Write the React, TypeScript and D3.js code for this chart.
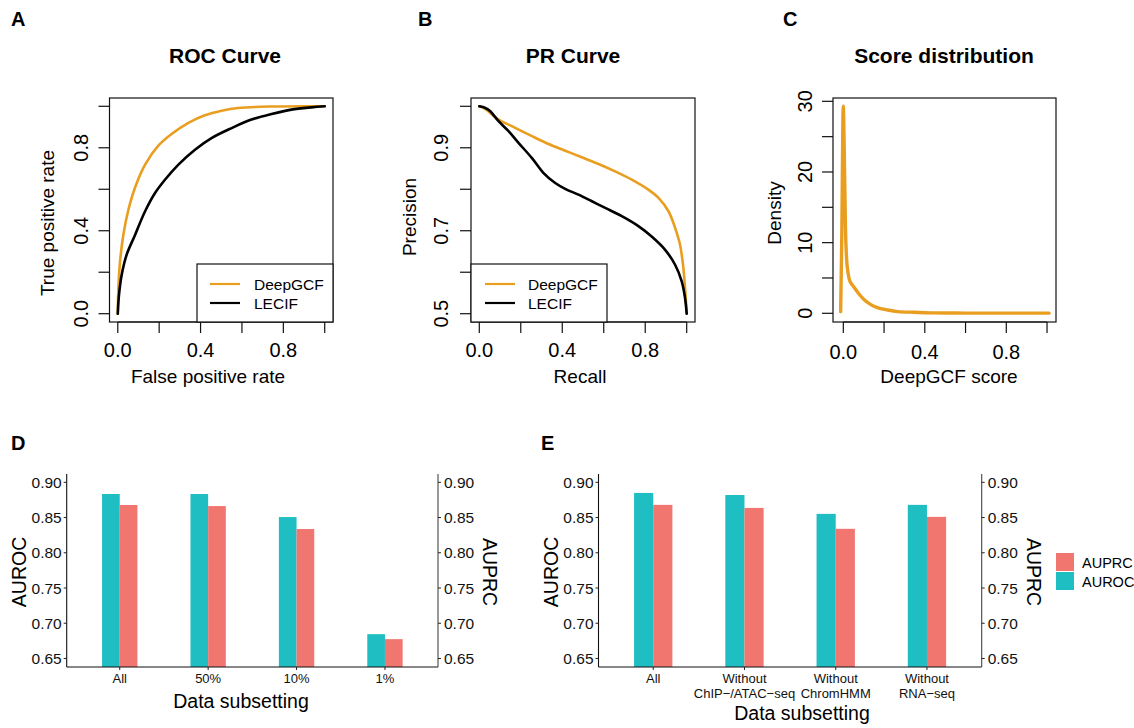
import React from 'react'
import * as d3 from 'd3'

const FONT = '"Liberation Sans", Arial, Helvetica, sans-serif'
const ORANGE = '#E99E1F'
const TEAL = '#1FBEC3'
const SALMON = '#F17670'

// ROC curve points [FPR, TPR]
const rocDeepGCF = [
  [0, 0], [0.003, 0.124], [0.011, 0.252], [0.027, 0.381], [0.051, 0.5], [0.084, 0.61],
  [0.132, 0.719], [0.196, 0.81], [0.26, 0.866], [0.341, 0.92], [0.421, 0.957], [0.502, 0.979],
  [0.582, 0.992], [0.743, 0.999], [1, 1],
]
const rocLECIF = [
  [0, 0], [0.006, 0.092], [0.019, 0.188], [0.043, 0.285], [0.084, 0.381], [0.132, 0.494],
  [0.18, 0.582], [0.228, 0.646], [0.293, 0.719], [0.373, 0.791], [0.453, 0.847], [0.55, 0.895],
  [0.646, 0.936], [0.743, 0.963], [0.839, 0.984], [0.936, 0.995], [1, 1],
]

// PR curve points [recall, precision]
const prDeepGCF = [
  [0, 1.0], [0.029, 0.994], [0.061, 0.98], [0.093, 0.968], [0.173, 0.948], [0.254, 0.928],
  [0.334, 0.909], [0.414, 0.893], [0.494, 0.877], [0.575, 0.861], [0.655, 0.843], [0.735, 0.823],
  [0.815, 0.799], [0.864, 0.779], [0.912, 0.747], [0.944, 0.707], [0.968, 0.666], [0.984, 0.61],
  [0.992, 0.562], [1.0, 0.5],
]
const prLECIF = [
  [0, 1.0], [0.029, 0.996], [0.053, 0.988], [0.093, 0.964], [0.141, 0.94], [0.189, 0.912],
  [0.254, 0.875], [0.31, 0.839], [0.366, 0.815], [0.414, 0.801], [0.478, 0.787], [0.543, 0.771],
  [0.607, 0.755], [0.687, 0.735], [0.767, 0.711], [0.831, 0.686], [0.896, 0.654], [0.944, 0.618],
  [0.976, 0.578], [0.992, 0.538], [1.0, 0.5],
]

// score density [score, density]
const scoreDensity = [
  [-0.013, 0.24], [-0.007, 12], [-0.002, 27.5], [0.0, 29.3], [0.004, 24], [0.008, 16.7],
  [0.013, 9.7], [0.02, 6.4], [0.033, 4.5], [0.05, 3.8], [0.075, 2.8], [0.1, 2.0], [0.133, 1.27],
  [0.167, 0.8], [0.217, 0.47], [0.267, 0.24], [0.35, 0.14], [0.43, 0.06], [0.6, 0.03],
  [0.8, 0.02], [1.01, 0.02],
]

const unitTicks = [0, 0.2, 0.4, 0.6, 0.8, 1.0]
const unitLabels = [0, 0.4, 0.8]
const prTicks = [0.5, 0.6, 0.7, 0.8, 0.9, 1.0]
const prLabels = [0.5, 0.7, 0.9]
const densTicks = [0, 5, 10, 15, 20, 25, 30]
const densLabels = [0, 10, 20, 30]

// bar panels
const subsetCats = ['All', '50%', '10%', '1%']
const subsetAUROC = [0.8834, 0.8834, 0.8507, 0.6845]
const subsetAUPRC = [0.8678, 0.8663, 0.8337, 0.6774]

const featureCats = [['All'], ['Without', 'ChIP\u2212/ATAC\u2212seq'], ['Without', 'ChromHMM'], ['Without', 'RNA\u2212seq']]
const featureAUROC = [0.8849, 0.882, 0.8552, 0.868]
const featureAUPRC = [0.868, 0.8637, 0.834, 0.851]

const barTicks = [0.65, 0.7, 0.75, 0.8, 0.85, 0.9]

function Letter({x, y, t}) {
  return <text x={x} y={y} fontSize={20} fontWeight="bold" fontFamily={FONT}>{t}</text>
}

function RPanel(p) {
  const x = d3.scaleLinear().domain(p.xDomain).range([p.box[0], p.box[1]])
  const y = d3.scaleLinear().domain(p.yDomain).range([p.box[3], p.box[2]])
  const line = d3.line().x(d => x(d[0])).y(d => y(d[1])).curve(d3.curveCatmullRom.alpha(0.5))
  const fx = d3.format('.1f')
  const [bx0, bx1, by0, by1] = p.box
  return (
    <g fontFamily={FONT}>
      <Letter x={p.letterX} y={26} t={p.letter} />
      <text x={p.titleX} y={63} fontSize={21} fontWeight="bold" textAnchor="middle">{p.title}</text>
      {p.series.map((s, i) => (
        <path key={i} d={line(s.data)} fill="none" stroke={s.color} strokeWidth={s.width} strokeLinejoin="round" strokeLinecap="round" />
      ))}
      <rect x={bx0} y={by0} width={bx1 - bx0} height={by1 - by0} fill="none" stroke="#111" strokeWidth={1.2} />
      {/* x axis */}
      <line x1={x(p.xTicks[0])} x2={x(p.xTicks[p.xTicks.length - 1])} y1={by1} y2={by1} stroke="#111" strokeWidth={1.2} />
      {p.xTicks.map(t => <line key={t} x1={x(t)} x2={x(t)} y1={by1} y2={by1 + 11} stroke="#111" strokeWidth={1.2} />)}
      {p.xLabels.map(t => <text key={t} x={x(t)} y={p.xLabelY} fontSize={20} textAnchor="middle">{fx(t)}</text>)}
      <text x={p.xTitleX} y={383} fontSize={19} textAnchor="middle">{p.xTitle}</text>
      {/* y axis */}
      {p.yTicks.map(t => <line key={t} x1={bx0 - 11} x2={bx0} y1={y(t)} y2={y(t)} stroke="#111" strokeWidth={1.2} />)}
      {p.yLabels.map(t => (
        <text key={t} transform={`translate(${p.yLabelX},${y(t)}) rotate(-90)`} fontSize={20} textAnchor="middle">{p.yFmt(t)}</text>
      ))}
      <text transform={`translate(${p.yTitleX},${p.yTitleY}) rotate(-90)`} fontSize={19} textAnchor="middle">{p.yTitle}</text>
      {p.legend && (
        <g>
          <rect x={p.legend.x0} y={264} width={p.legend.x1 - p.legend.x0} height={by1 - 264} fill="white" stroke="#111" strokeWidth={1.2} />
          {p.series.map((s, i) => (
            <g key={i}>
              <line x1={p.legend.lx0} x2={p.legend.lx0 + 30} y1={284 + i * 19} y2={284 + i * 19} stroke={s.color} strokeWidth={2.2} />
              <text x={p.legend.tx} y={284 + i * 19 + 5.5} fontSize={15.5}>{s.label}</text>
            </g>
          ))}
        </g>
      )}
    </g>
  )
}

function BarPanel(p) {
  const y = d3.scaleLinear().domain([0.6379, 0.9118]).range([667, 474])
  const x = d3.scalePoint().domain(p.cats.map(c => c.join(' '))).range([p.left, p.right]).padding(0.6)
  const bw = (x.step() * p.barFrac) / 2
  const f2 = d3.format('.2f')
  const bottom = y.range()[0]
  return (
    <g fontFamily={FONT}>
      <Letter x={p.letterX} y={450} t={p.letter} />
      {p.cats.map((c, i) => {
        const cx = x(c.join(' '))
        return (
          <g key={i}>
            <rect x={cx - bw} y={y(p.auroc[i])} width={bw} height={bottom - y(p.auroc[i])} fill={TEAL} />
            <rect x={cx} y={y(p.auprc[i])} width={bw} height={bottom - y(p.auprc[i])} fill={SALMON} />
            <line x1={cx} x2={cx} y1={bottom} y2={bottom + 3} stroke="#222" />
            {c.map((ln, j) => (
              <text key={j} x={cx} y={683 + j * 14.5} fontSize={13} textAnchor="middle" fill="#111">{ln}</text>
            ))}
          </g>
        )
      })}
      <line x1={p.left} x2={p.right} y1={bottom} y2={bottom} stroke="#111" strokeWidth={1.1} />
      <line x1={p.left} x2={p.left} y1={474} y2={bottom} stroke="#111" strokeWidth={1.1} />
      <line x1={p.right} x2={p.right} y1={474} y2={bottom} stroke="#444" strokeWidth={1.1} />
      {barTicks.map(t => (
        <g key={t}>
          <line x1={p.left - 3} x2={p.left} y1={y(t)} y2={y(t)} stroke="#222" />
          <text x={p.left - 5} y={y(t) + 5.5} fontSize={15.5} textAnchor="end" fill="#111">{f2(t)}</text>
          <line x1={p.right} x2={p.right + 3} y1={y(t)} y2={y(t)} stroke="#222" />
          <text x={p.right + 6} y={y(t) + 5.5} fontSize={15.5} fill="#111">{f2(t)}</text>
        </g>
      ))}
      <text transform={`translate(${p.left - 41},572) rotate(-90)`} fontSize={19.5} textAnchor="middle">AUROC</text>
      <text transform={`translate(${p.right + 45},572) rotate(90)`} fontSize={19.5} textAnchor="middle">AUPRC</text>
      <text x={p.xTitleX} y={p.xTitleY} fontSize={19.5} textAnchor="middle">Data subsetting</text>
      {p.legend && (
        <g>
          <rect x={1056} y={553} width={18} height={18} fill={SALMON} />
          <rect x={1056} y={572} width={18} height={18} fill={TEAL} />
          <text x={1082} y={567.5} fontSize={14.5}>AUPRC</text>
          <text x={1082} y={586.5} fontSize={14.5}>AUROC</text>
        </g>
      )}
    </g>
  )
}

export default function App() {
  const f1 = d3.format('.1f')
  return (
    <svg width={1134} height={728} style={{position: 'absolute', left: 0, top: 0, background: 'white'}}>
      <RPanel
        letter="A" letterX={11} title="ROC Curve" titleX={225}
        box={[109.5, 333, 98, 322]} xDomain={[-0.04, 1.04]} yDomain={[-0.04, 1.04]}
        xTicks={unitTicks} xLabels={unitLabels} xLabelY={357} xTitle="False positive rate" xTitleX={208}
        yTicks={unitTicks} yLabels={unitLabels} yFmt={f1} yLabelX={88}
        yTitle="True positive rate" yTitleX={54} yTitleY={223}
        series={[
          {data: rocDeepGCF, color: ORANGE, width: 2.6, label: 'DeepGCF'},
          {data: rocLECIF, color: '#000', width: 2.6, label: 'LECIF'},
        ]}
        legend={{x0: 197, x1: 333, lx0: 210, tx: 254}}
      />
      <RPanel
        letter="B" letterX={418} title="PR Curve" titleX={573}
        box={[471, 695, 98, 322]} xDomain={[-0.04, 1.04]} yDomain={[0.48, 1.02]}
        xTicks={unitTicks} xLabels={unitLabels} xLabelY={357} xTitle="Recall" xTitleX={580}
        yTicks={prTicks} yLabels={prLabels} yFmt={f1} yLabelX={448}
        yTitle="Precision" yTitleX={416} yTitleY={217}
        series={[
          {data: prDeepGCF, color: ORANGE, width: 2.6, label: 'DeepGCF'},
          {data: prLECIF, color: '#000', width: 2.6, label: 'LECIF'},
        ]}
        legend={{x0: 471, x1: 607, lx0: 485, tx: 528}}
      />
      <RPanel
        letter="C" letterX={783} title="Score distribution" titleX={944}
        box={[833, 1056, 98, 322]} xDomain={[-0.0506, 1.044]} yDomain={[-1.23, 30.47]}
        xTicks={unitTicks} xLabels={unitLabels} xLabelY={359} xTitle="DeepGCF score" xTitleX={949}
        yTicks={densTicks} yLabels={densLabels} yFmt={d3.format('d')} yLabelX={812}
        yTitle="Density" yTitleX={781} yTitleY={213}
        series={[{data: scoreDensity, color: ORANGE, width: 3.4, label: 'DeepGCF'}]}
      />
      <BarPanel
        letter="D" letterX={11} left={66.7} right={438} barFrac={0.4}
        cats={subsetCats.map(c => [c])} auroc={subsetAUROC} auprc={subsetAUPRC}
        xTitleX={241} xTitleY={708}
      />
      <BarPanel
        letter="E" letterX={541} left={598.5} right={981.7} barFrac={0.42}
        cats={featureCats} auroc={featureAUROC} auprc={featureAUPRC}
        xTitleX={802} xTitleY={720} legend
      />
    </svg>
  )
}
